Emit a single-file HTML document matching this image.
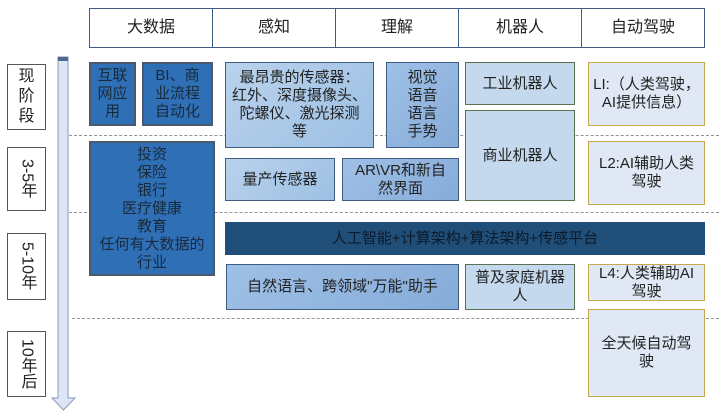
<!DOCTYPE html>
<html><head><meta charset="utf-8">
<style>
body{margin:0;width:719px;height:417px;background:#fff;position:relative;overflow:hidden;font-family:"Liberation Sans","Noto Sans CJK SC",sans-serif;color:#222;}
.b{position:absolute;box-sizing:border-box;display:flex;align-items:center;justify-content:center;text-align:center;font-size:15px;line-height:18px;}
.hd{border:1px solid #3f5e80;border-left:none;top:8px;height:40px;font-size:16px;background:#fff;}
.dk{background:#2e6fb5;border:2px solid #4a5a6c;color:#1a2a3a;}
.lt{background:linear-gradient(135deg,#b9d2ec,#9dc0e4);border:1px solid #3f5e80;}
.md{background:linear-gradient(135deg,#9fc0e6,#86acd9);border:1px solid #3f5e80;}
.rb{background:#c4d9ee;border:1px solid #5a7050;}
.ad{background:#dfe8f4;border:1px solid #c8a850;}
.lbl{border:1px solid #555;background:#fff;font-size:16px;left:7px;width:39px;}
.dash{position:absolute;height:0;border-top:1px dashed #8a95a0;}
.v{writing-mode:vertical-rl;}
</style></head><body>
<div class="b hd" style="left:89px;width:124px;border-left:1px solid #3f5e80;">大数据</div>
<div class="b hd" style="left:213px;width:123px;">感知</div>
<div class="b hd" style="left:336px;width:123px;">理解</div>
<div class="b hd" style="left:459px;width:123px;">机器人</div>
<div class="b hd" style="left:582px;width:123px;">自动驾驶</div>

<div class="b lbl" style="top:64px;height:66px;line-height:20px;">现<br>阶<br>段</div>
<div class="b lbl" style="top:147px;height:64px;"><span class="v">3-5年</span></div>
<div class="b lbl" style="top:233px;height:67px;"><span class="v">5-10年</span></div>
<div class="b lbl" style="top:331px;height:66px;"><span class="v">10年后</span></div>

<div class="dash" style="left:69px;width:650px;top:135px;"></div>
<div class="dash" style="left:69px;width:650px;top:212px;"></div>
<div class="dash" style="left:72px;width:647px;top:318px;"></div>

<svg style="position:absolute;left:0;top:0" width="719" height="417">
<path d="M58 57 H68 V398 H75 L63.5 410 L52 398 H58 Z" fill="#dce6f4" stroke="#8a9ab8" stroke-width="1"/>
<rect x="58" y="57" width="10" height="4" fill="#4a6a90"/>
</svg>

<div class="b dk" style="left:89px;top:62px;width:47px;height:64px;">互联<br>网应<br>用</div>
<div class="b dk" style="left:142px;top:62px;width:71px;height:64px;">BI、商<br>业流程<br>自动化</div>
<div class="b dk" style="left:89px;top:141px;width:126px;height:135px;">投资<br>保险<br>银行<br>医疗健康<br>教育<br>任何有大数据的<br>行业</div>

<div class="b lt" style="left:225px;top:62px;width:149px;height:86px;">最昂贵的传感器：<br>红外、深度摄像头、<br>陀螺仪、激光探测<br>等</div>
<div class="b md" style="left:386px;top:62px;width:73px;height:86px;">视觉<br>语音<br>语言<br>手势</div>
<div class="b rb" style="left:465px;top:62px;width:110px;height:43px;">工业机器人</div>
<div class="b rb" style="left:465px;top:110px;width:110px;height:91px;">商业机器人</div>
<div class="b ad" style="left:588px;top:62px;width:117px;height:64px;">LI:（人类驾驶，<br>AI提供信息）</div>
<div class="b ad" style="left:588px;top:141px;width:117px;height:64px;">L2:AI辅助人类<br>驾驶</div>

<div class="b lt" style="left:225px;top:158px;width:110px;height:43px;">量产传感器</div>
<div class="b md" style="left:342px;top:158px;width:117px;height:43px;">AR\VR和新自<br>然界面</div>

<div class="b" style="left:225px;top:222px;width:480px;height:33px;background:#1f4e79;color:#0d1a2a;font-size:15px;">人工智能+计算架构+算法架构+传感平台</div>

<div class="b md" style="left:226px;top:264px;width:233px;height:46px;">自然语言、跨领域"万能"助手</div>
<div class="b rb" style="left:465px;top:264px;width:110px;height:46px;">普及家庭机器<br>人</div>
<div class="b ad" style="left:588px;top:264px;width:117px;height:37px;">L4:人类辅助AI<br>驾驶</div>
<div class="b ad" style="left:588px;top:309px;width:117px;height:88px;">全天候自动驾<br>驶</div>
</body></html>
